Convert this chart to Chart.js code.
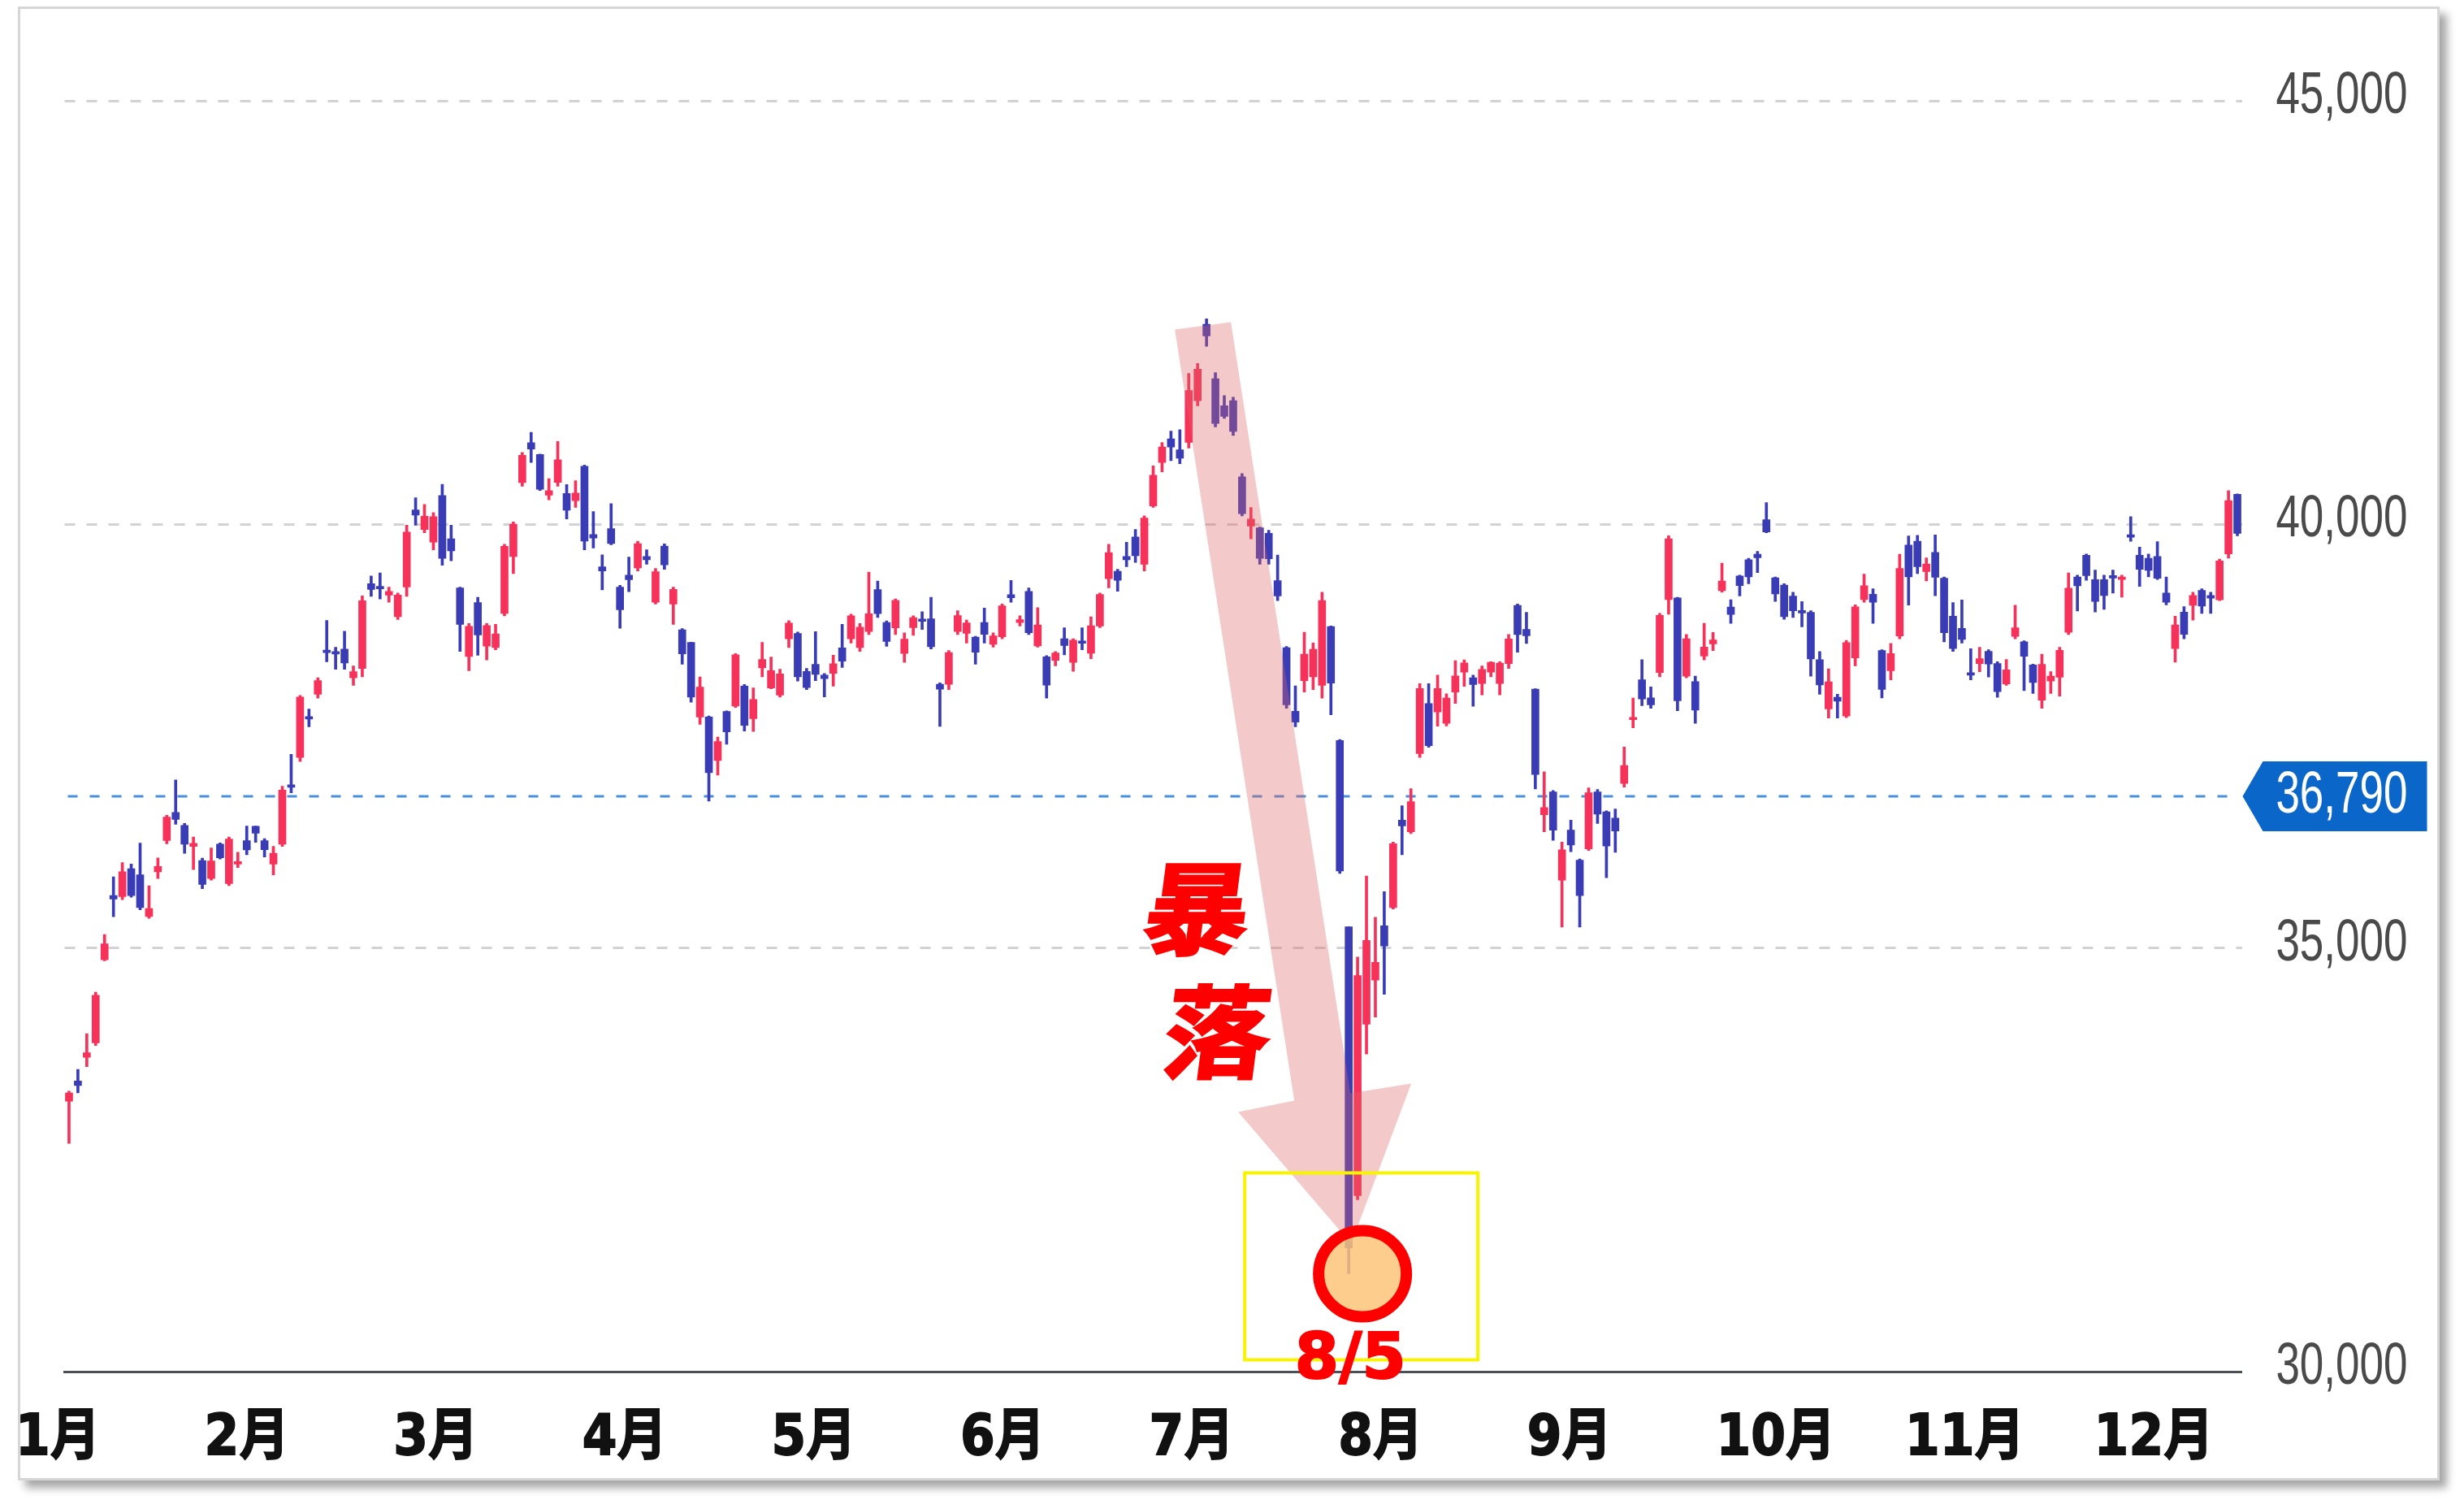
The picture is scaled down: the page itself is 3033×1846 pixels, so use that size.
<!DOCTYPE html>
<html lang="ja">
<head>
<meta charset="utf-8">
<title>日経平均 2024 ローソク足</title>
<script src="https://cdn.jsdelivr.net/npm/chart.js@4.4.1/dist/chart.umd.min.js"></script>
<style>
  html,body{margin:0;padding:0;background:#fff;overflow:hidden;}
  #frame{position:absolute;left:22px;top:8px;width:2975px;height:1808px;border:3px solid #d6d6d6;box-shadow:9px 9px 10px rgba(0,0,0,0.35);background:#fff;}
  #c{position:absolute;left:0;top:0;width:3033px;height:1846px;}
</style>
</head>
<body>
<div id="frame"></div>
<canvas id="c" width="3033" height="1846"></canvas>
<script>
// ---- data (Nikkei 225, 2024, daily) ----
const dates = [
'1/4','1/5','1/9','1/10','1/11','1/12','1/15','1/16','1/17','1/18','1/19','1/22','1/23','1/24','1/25','1/26','1/29','1/30','1/31',
'2/1','2/2','2/5','2/6','2/7','2/8','2/9','2/13','2/14','2/15','2/16','2/19','2/20','2/21','2/22','2/26','2/27','2/28','2/29',
'3/1','3/4','3/5','3/6','3/7','3/8','3/11','3/12','3/13','3/14','3/15','3/18','3/19','3/21','3/22','3/25','3/26','3/27','3/28','3/29',
'4/1','4/2','4/3','4/4','4/5','4/8','4/9','4/10','4/11','4/12','4/15','4/16','4/17','4/18','4/19','4/22','4/23','4/24','4/25','4/26','4/30',
'5/1','5/2','5/7','5/8','5/9','5/10','5/13','5/14','5/15','5/16','5/17','5/20','5/21','5/22','5/23','5/24','5/27','5/28','5/29','5/30','5/31',
'6/3','6/4','6/5','6/6','6/7','6/10','6/11','6/12','6/13','6/14','6/17','6/18','6/19','6/20','6/21','6/24','6/25','6/26','6/27','6/28',
'7/1','7/2','7/3','7/4','7/5','7/8','7/9','7/10','7/11','7/12','7/16','7/17','7/18','7/19','7/22','7/23','7/24','7/25','7/26','7/29','7/30','7/31',
'8/1','8/2','8/5','8/6','8/7','8/8','8/9','8/13','8/14','8/15','8/16','8/19','8/20','8/21','8/22','8/23','8/26','8/27','8/28','8/29','8/30',
'9/2','9/3','9/4','9/5','9/6','9/9','9/10','9/11','9/12','9/13','9/17','9/18','9/19','9/20','9/24','9/25','9/26','9/27','9/30',
'10/1','10/2','10/3','10/4','10/7','10/8','10/9','10/10','10/11','10/15','10/16','10/17','10/18','10/21','10/22','10/23','10/24','10/25','10/28','10/29','10/30','10/31',
'11/1','11/5','11/6','11/7','11/8','11/11','11/12','11/13','11/14','11/15','11/18','11/19','11/20','11/21','11/22','11/25','11/26','11/27','11/28','11/29',
'12/2','12/3','12/4','12/5','12/6','12/9','12/10','12/11','12/12','12/13','12/16','12/17','12/18','12/19','12/20','12/23','12/24','12/25','12/26','12/27','12/30'
];
const opens = [
33193,33430,33710,33880,34861,35620,35607,35935,35863,35372,
35900,36268,36600,36447,36200,36033,35820,36225,35760,35990,
36268,36438,36268,35990,36225,36910,37250,37730,37994,38510,
38490,38527,38190,38300,39300,39260,39164,38910,39260,40170,
39940,39790,40340,39830,39250,38440,39078,38563,38545,38950,
39620,40493,40965,40824,40345,40495,40365,40280,40686,39880,
39500,39949,39258,39400,39485,39620,39080,39743,39060,38756,
38606,37727,37727,37212,37791,37856,38091,37706,38306,38070,
37984,38649,38713,38263,38349,38220,38242,38542,38649,38545,
38735,39230,38842,38778,38477,38780,38870,38885,38113,38113,
38735,38713,38670,38842,38585,38673,39170,38840,39209,38566,
38437,38394,38651,38372,38620,38480,38801,39359,39445,39620,
39852,39530,40217,40731,41010,40881,40967,41460,42361,41718,
41400,41460,40560,39981,39959,39895,39337,38544,37793,38156,
38200,38100,38795,37450,35250,32077,34100,34622,35262,35477,
36510,36372,37294,37886,37786,37651,38021,38257,38189,38122,
38257,38122,38357,39044,38761,38055,36574,36843,35800,36392,
36036,36170,36843,36608,36534,36942,37694,38166,37952,38252,
39111,39133,38209,38145,38445,38590,39218,39025,39390,39584,
39648,40056,39369,39283,39154,38980,38961,38402,37823,37960,
37737,38424,39111,39175,38510,38274,38682,39755,39800,39444,
39668,39364,38917,38773,38240,38357,38501,38357,38118,38677,
38613,38341,37926,38150,38197,38725,39380,39636,39348,39348,
39390,39350,39860,39636,39600,39620,39189,38533,38965,39045,
39220,39160,39109,39652,40356
];
const highs = [
33310,33568,33990,34477,35160,35839,36008,35990,36239,35735,
36063,36566,36984,36470,36310,36060,36180,36240,36310,36130,
36440,36440,36290,36200,36910,37287,37980,37820,38190,38865,
38550,38740,38330,39157,39390,39426,39260,39190,39990,40314,
40236,40140,40472,39990,39260,38830,39140,38830,38820,39764,
40030,40850,41087,40830,40540,40979,40470,40515,40700,40150,
39640,40245,39280,39615,39800,39700,39480,39770,39260,38770,
38610,38199,37740,37490,37800,38475,38110,38070,38606,38435,
38290,38863,38730,38300,38735,38240,38456,38820,38940,38830,
39437,39330,38860,39121,38720,38920,38970,39140,38130,38510,
38980,38870,38680,39013,38720,39060,39338,38920,39250,39016,
38450,38500,38780,38650,38780,38910,39190,39766,39470,39790,
39940,40100,40690,40966,41100,41118,41781,41900,42426,41790,
41520,41500,40600,40200,39970,39930,39638,38560,38094,38726,
38600,39200,38800,37460,35250,34892,35849,35363,35665,36250,
36680,36880,38120,38120,38220,38000,38391,38400,38220,38330,
38380,38380,38700,39060,38963,38060,37079,36860,36250,36508,
36050,36890,36870,36620,36640,37372,37951,38402,38081,38950,
39866,39140,38700,38210,38832,38725,39541,39111,39400,39600,
39680,40257,39380,39300,39200,39090,38980,38500,38295,37995,
38630,39050,39412,39240,38520,38596,39648,39863,39870,39604,
39876,39380,39077,39108,38533,38549,38520,38380,38405,39045,
38625,38350,38469,38262,38550,39428,39400,39650,39460,39400,
39460,39400,40091,39732,39650,39796,39380,38917,39029,39200,
39240,39200,39590,40398,40360
];
const lows = [
32693,33290,33600,33850,34850,35370,35570,35600,35450,35350,
35820,36230,36460,36118,35925,35700,35800,36050,35735,35950,
36100,36246,36075,35863,36200,36832,37200,37610,37950,38378,
38290,38290,38100,38200,39150,39120,39080,38876,39150,39990,
39900,39700,39518,39570,38500,38272,38455,38400,38520,38920,
39420,40450,40730,40400,40290,40450,40064,40200,39700,39720,
39228,39760,38774,39206,39450,39530,39060,39470,38820,38350,
37900,37641,36733,37041,37405,37840,37560,37555,38200,38060,
37960,38545,38150,38050,38156,37963,38090,38310,38600,38500,
38700,38900,38560,38700,38370,38690,38760,38530,37617,38050,
38700,38600,38350,38600,38550,38650,39080,38800,38700,38550,
37950,38330,38460,38265,38520,38415,38780,39250,39210,39500,
39550,39450,40200,40620,40753,40717,40900,41400,42102,41150,
41250,41050,40100,39830,39530,39530,39100,37830,37611,38020,
38050,37950,37752,35880,31156,32030,33749,34185,34454,35460,
36100,36350,37250,37370,37618,37620,37886,38088,37853,37988,
38200,37988,38300,38492,38593,36877,36372,36271,35247,36136,
35247,36150,36470,35830,36130,36900,37600,37860,37830,38200,
38939,37801,38190,37651,38400,38510,39200,38832,39154,39300,
39430,39900,39090,38880,38900,38790,38209,37994,37715,37715,
37720,38330,39080,38832,37951,38166,38650,39047,39420,39333,
39157,38613,38500,38600,38166,38262,38198,37958,38100,38650,
38037,38005,37830,38005,37974,38700,38977,39340,38965,38997,
39189,39140,39800,39268,39380,39350,39050,38373,38650,38869,
38949,38949,39100,39600,39864
];
const closes = [
33288,33377,33763,34441,35049,35577,35901,35619,35477,35466,
35963,36546,36517,36226,36236,35751,36026,36065,36286,36011,
36158,36354,36160,36119,36863,36897,37963,37703,38157,38487,
38470,38363,38262,39098,39233,39239,39208,39166,39910,40109,
40097,40090,39598,39688,38820,38797,38695,38807,38707,39740,
40003,40815,40888,40414,40398,40762,40168,40369,39803,39838,
39451,39773,38992,39347,39773,39581,39442,39523,39232,38471,
37961,38079,37068,37438,37552,38460,37628,37934,38405,38274,
38236,38835,38202,38073,38229,38179,38356,38385,38920,38787,
38946,38946,38617,39103,38646,38900,38855,38556,38054,38487,
38923,38837,38490,38703,38683,39038,39134,38876,38720,38814,
38102,38482,38570,38633,38596,38804,39173,39667,39341,39583,
39631,40074,40580,40913,40912,40780,41580,41831,42224,41190,
41275,41097,40126,40063,39599,39594,39154,37869,37667,38468,
38525,39101,38126,35909,31458,34675,35089,34831,35025,36232,
36442,36726,38062,37388,38062,37951,38211,38364,38110,38288,
38371,38362,38647,38700,38686,37047,36657,36391,36159,36215,
35619,36833,36581,36203,36380,37155,37723,37940,37870,38925,
39829,37919,38651,37808,38552,38635,39332,38937,39277,39380,
39605,39910,39180,38911,38981,38954,38411,38104,38143,37913,
38605,39027,39277,39081,38053,38474,39480,39381,39500,39533,
39376,38721,38535,38642,38220,38414,38352,38026,38283,38780,
38442,38134,38349,38208,38513,39248,39276,39395,39091,39160,
39367,39372,39849,39470,39457,39364,39081,38813,38701,39161,
39036,39130,39568,40281,39894
];
const yTicks = [30000, 35000, 40000, 45000];
const refPrice = 36790;
const monthLabels = ['1月','2月','3月','4月','5月','6月','7月','8月','9月','10月','11月','12月'];
const crashDate = '8/5';
const crashLabel = '8/5';
const crashText = ['暴','落'];

// ---- styling ----
const UP = '#f7325a', DOWN = '#3a3cb5';
const candleColors = closes.map((c, i) => c > opens[i] ? UP : DOWN);
const wickData = lows.map((l, i) => [l, highs[i]]);
const bodyData = opens.map((o, i) => [Math.min(o, closes[i]), Math.max(o, closes[i])]);

function stretchText(ctx, text, x, y, sx, sy, align) {
  ctx.save();
  ctx.translate(x, y);
  ctx.scale(sx, sy);
  ctx.textAlign = align;
  ctx.textBaseline = 'middle';
  ctx.fillText(text, 0, 0);
  ctx.restore();
}

const overlay = {
  id: 'overlay',
  beforeDatasetsDraw(chart) {
    const {ctx, chartArea: a, scales: {y}} = chart;
    const yy = y.getPixelForValue(refPrice);
    ctx.save();
    ctx.strokeStyle = '#4a8fdc';
    ctx.lineWidth = 3;
    ctx.setLineDash([12, 15]);
    ctx.beginPath();
    ctx.moveTo(a.left + 4, yy);
    ctx.lineTo(a.right - 4, yy);
    ctx.stroke();
    ctx.restore();
  },
  afterDatasetsDraw(chart) {
    const {ctx, chartArea: a, scales: {x, y}} = chart;
    const ci = dates.indexOf(crashDate);
    const cx = x.getPixelForValue(ci);
    const cy = y.getPixelForValue(lows[ci]);

    // big translucent arrow
    ctx.save();
    ctx.fillStyle = 'rgba(220,100,100,0.35)';
    const tipX = cx + 3, tipY = cy - 37;
    const pts = [
      [tipX - 217, tipY - 1125], [tipX - 148, tipY - 1134],
      [tipX - 1, tipY - 185], [tipX + 74, tipY - 197],
      [tipX, tipY],
      [tipX - 139, tipY - 162], [tipX - 70, tipY - 176]
    ];
    ctx.beginPath();
    pts.forEach((p, k) => k ? ctx.lineTo(p[0], p[1]) : ctx.moveTo(p[0], p[1]));
    ctx.closePath();
    ctx.fill();
    ctx.restore();

    // 暴落 (bold, slightly slanted)
    ctx.save();
    ctx.fillStyle = '#ff0000';
    ctx.strokeStyle = '#ff0000';
    ctx.lineWidth = 3;
    ctx.font = 'bold 124px "Noto Sans CJK JP"';
    ctx.textAlign = 'center';
    ctx.textBaseline = 'middle';
    [[crashText[0], cx - 186, cy - 450], [crashText[1], cx - 161, cy - 298]].forEach(([t, px, py]) => {
      ctx.save();
      ctx.translate(px, py);
      ctx.transform(1.05, 0, -0.13, 1, 0, 0);
      ctx.fillText(t, 0, 0);
      ctx.strokeText(t, 0, 0);
      ctx.restore();
    });
    ctx.restore();

    // circle
    ctx.save();
    ctx.beginPath();
    ctx.ellipse(cx + 17, cy, 54, 53, 0, 0, Math.PI * 2);
    ctx.fillStyle = 'rgba(251,196,120,0.85)';
    ctx.fill();
    ctx.lineWidth = 14;
    ctx.strokeStyle = '#ff0000';
    ctx.stroke();
    ctx.restore();

    // yellow box
    ctx.save();
    ctx.strokeStyle = '#f8f400';
    ctx.lineWidth = 4;
    ctx.strokeRect(cx - 128, cy - 124, 287, 230);
    ctx.restore();

    // 8/5 label
    ctx.save();
    ctx.fillStyle = '#ff0000';
    ctx.strokeStyle = '#ff0000';
    ctx.lineWidth = 2;
    ctx.font = 'bold 78px "DejaVu Sans"';
    ctx.textAlign = 'center';
    ctx.textBaseline = 'alphabetic';
    ctx.fillText(crashLabel, cx + 2, cy + 129);
    ctx.strokeText(crashLabel, cx + 2, cy + 129);
    ctx.restore();

    // y tick labels (right side)
    ctx.save();
    ctx.fillStyle = '#4a4a4a';
    ctx.font = '53px "Liberation Sans", Arial, sans-serif';
    yTicks.forEach(v => {
      stretchText(ctx, v.toLocaleString('en-US'), a.right + 204, y.getPixelForValue(v) - 5, 1, 1.37, 'right');
    });
    ctx.restore();

    // price tag
    const ty = y.getPixelForValue(refPrice);
    ctx.save();
    ctx.fillStyle = '#0b66c9';
    ctx.beginPath();
    ctx.moveTo(a.right + 1, ty);
    ctx.lineTo(a.right + 26, ty - 43);
    ctx.lineTo(a.right + 228, ty - 43);
    ctx.lineTo(a.right + 228, ty + 43);
    ctx.lineTo(a.right + 26, ty + 43);
    ctx.closePath();
    ctx.fill();
    ctx.fillStyle = '#ffffff';
    ctx.font = '53px "Liberation Sans", Arial, sans-serif';
    stretchText(ctx, refPrice.toLocaleString('en-US'), a.right + 204, ty, 1, 1.37, 'right');
    ctx.restore();

    // month labels
    ctx.save();
    ctx.fillStyle = '#111111';
    ctx.strokeStyle = '#111111';
    ctx.lineWidth = 1.5;
    ctx.font = 'bold 58px "DejaVu Sans", "Noto Sans CJK JP", sans-serif';
    monthLabels.forEach((m, k) => {
      ctx.save();
      ctx.translate(19 + 232.6 * k, 1772);
      ctx.scale(1.06, 1.2);
      ctx.textAlign = 'left';
      ctx.textBaseline = 'middle';
      ctx.fillText(m, 0, 0);
      ctx.strokeText(m, 0, 0);
      ctx.restore();
    });
    ctx.restore();
  }
};

new Chart(document.getElementById('c'), {
  type: 'bar',
  data: {
    labels: dates,
    datasets: [
      { label: 'body', data: bodyData, backgroundColor: candleColors, borderWidth: 0,
        barThickness: 9, grouped: false, minBarLength: 3, order: 1 },
      { label: 'wick', data: wickData, backgroundColor: candleColors, borderWidth: 0,
        barThickness: 3, grouped: false, order: 2 }
    ]
  },
  options: {
    responsive: false,
    animation: false,
    devicePixelRatio: 1,
    layout: { padding: { left: 79.5, right: 273.5, top: 124, bottom: 158 } },
    plugins: { legend: { display: false }, tooltip: { enabled: false } },
    scales: {
      x: {
        type: 'category',
        offset: true,
        grid: { display: false, drawTicks: false },
        ticks: { display: false },
        border: { display: true, color: '#4b5058', width: 3 },
        afterFit: s => { s.height = 0; }
      },
      y: {
        position: 'right',
        min: 30000, max: 45000,
        afterBuildTicks: s => { s.ticks = yTicks.map(v => ({ value: v })); },
        ticks: { display: false },
        grid: {
          drawTicks: false,
          lineWidth: 3,
          color: c => (c.tick && c.tick.value === 30000) ? 'rgba(0,0,0,0)' : '#d2d2d2'
        },
        border: { display: false, dash: [13, 14] },
        afterFit: s => { s.width = 0; }
      }
    }
  },
  plugins: [overlay]
});
</script>
</body>
</html>
